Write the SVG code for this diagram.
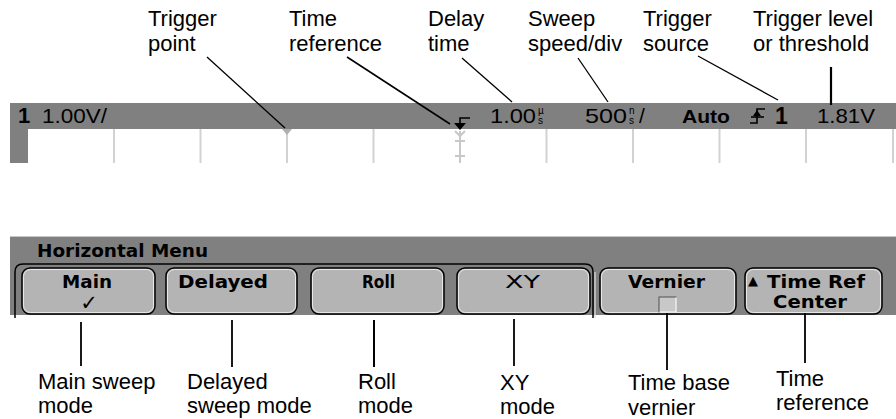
<svg xmlns="http://www.w3.org/2000/svg" width="896" height="419" viewBox="0 0 896 419">
<style>
.lbl{font-family:"Liberation Sans",Arial,sans-serif;font-size:22px;fill:#000}
.scr{font-family:"Liberation Sans",Arial,sans-serif;font-size:21px;fill:#000}
.unit{font-family:"Liberation Sans",Arial,sans-serif;font-size:10px;fill:#000}
.btn{font-family:"DejaVu Sans",sans-serif;font-weight:bold;font-size:17px;fill:#000}
.tick{stroke:#d2d2d2;stroke-width:2}
.btnbox{fill:#b4b4b4;stroke:#000;stroke-width:1.5}
.hl{fill:none;stroke:#e8e8e8;stroke-width:1}
.con line{stroke:#000;stroke-width:1.3}
</style>
<rect width="896" height="419" fill="#fff"/>
<!-- top status bar -->
<g id="status-bar">
<rect x="10" y="103" width="886" height="26" fill="#808080"/>
<rect x="10" y="129" width="18" height="34" fill="#808080"/>
<line class="tick" x1="114" y1="129" x2="114" y2="163"/>
<line class="tick" x1="200.5" y1="129" x2="200.5" y2="163"/>
<line class="tick" x1="287" y1="129" x2="287" y2="163"/>
<line class="tick" x1="373.5" y1="129" x2="373.5" y2="163"/>
<line class="tick" x1="546.5" y1="129" x2="546.5" y2="163"/>
<line class="tick" x1="633" y1="129" x2="633" y2="163"/>
<line class="tick" x1="719.5" y1="129" x2="719.5" y2="163"/>
<line class="tick" x1="806" y1="129" x2="806" y2="163"/>
<line class="tick" x1="893" y1="129" x2="893" y2="163"/>
<polygon points="282,129 292,129 287,135" fill="#b0b0b0"/>
<g stroke="#c8c8c8" stroke-width="2" fill="none">
<polyline points="455,131 460,136 465,131"/>
<line x1="460" y1="131" x2="460" y2="163"/>
<line x1="455" y1="141" x2="465" y2="141"/>
<line x1="455" y1="156" x2="465" y2="156"/>
</g>
<g stroke="#000" stroke-width="1.6" fill="none">
<polyline points="470,118 460,118 460,125"/>
</g>
<polygon points="454,123 466,123 460,130" fill="#000"/>
<text x="18" y="123" font-family="Liberation Sans,Arial,sans-serif" font-weight="bold" font-size="22">1</text>
<text class="scr" x="42" y="123" textLength="65" lengthAdjust="spacingAndGlyphs">1.00V/</text>
<text class="scr" x="490" y="123" textLength="46" lengthAdjust="spacingAndGlyphs">1.00</text>
<text class="unit" x="538" y="114">µ<tspan x="538" y="124">s</tspan></text>
<text class="scr" x="585" y="123" textLength="42" lengthAdjust="spacingAndGlyphs">500</text>
<text class="unit" x="629" y="114">n<tspan x="629" y="124">s</tspan></text>
<text class="scr" x="639" y="123">/</text>
<text x="682" y="123" font-family="Liberation Sans,Arial,sans-serif" font-weight="bold" font-size="18" textLength="48" lengthAdjust="spacingAndGlyphs">Auto</text>
<g stroke="#000" stroke-width="1.6" fill="none">
<polyline points="750,123 757,123 757,109 765,109"/>
<line x1="751" y1="117" x2="764" y2="117"/>
</g>
<polygon points="753,116 757,110 761,116" fill="#000"/>
<text x="775" y="124" font-family="Liberation Sans,Arial,sans-serif" font-weight="bold" font-size="23">1</text>
<text class="scr" x="817" y="123" textLength="58" lengthAdjust="spacingAndGlyphs">1.81V</text>
</g>
<!-- menu -->
<g id="menu">
<rect x="10" y="237" width="886" height="78" fill="#808080"/>
<line x1="10" y1="236.5" x2="896" y2="236.5" stroke="#c8c8c8" stroke-width="1"/>
<text class="btn" x="37" y="257" textLength="171" lengthAdjust="spacingAndGlyphs">Horizontal  Menu</text>
<path d="M15,318 V272 Q15,264 23,264 H585 Q593,264 593,272 V318" fill="none" stroke="#000" stroke-width="1.5"/>
<path d="M595,272 V318" fill="none" stroke="#e0e0e0" stroke-width="1.2"/>
</g>
<g id="btn-main">
<rect class="btnbox" x="22" y="268" width="133" height="46" rx="8"/>
<rect class="hl" x="23.5" y="269.5" width="130" height="43" rx="7"/>
<text class="btn" x="62" y="288" textLength="50" lengthAdjust="spacingAndGlyphs">Main</text>
<text x="89" y="310" font-family="DejaVu Sans,sans-serif" font-size="21" text-anchor="middle">✓</text>
</g>
<g id="btn-delayed">
<rect class="btnbox" x="166" y="268" width="131" height="46" rx="8"/>
<rect class="hl" x="167.5" y="269.5" width="128" height="43" rx="7"/>
<text class="btn" x="178" y="288" textLength="90" lengthAdjust="spacingAndGlyphs">Delayed</text>
</g>
<g id="btn-roll">
<rect class="btnbox" x="311" y="268" width="133" height="46" rx="8"/>
<rect class="hl" x="312.5" y="269.5" width="130" height="43" rx="7"/>
<text class="btn" x="362" y="288" textLength="33" lengthAdjust="spacingAndGlyphs">Roll</text>
</g>
<g id="btn-xy">
<rect class="btnbox" x="457" y="268" width="133" height="46" rx="8"/>
<rect class="hl" x="458.5" y="269.5" width="130" height="43" rx="7"/>
<text x="505" y="288" font-family="DejaVu Sans,sans-serif" font-size="18" textLength="35" lengthAdjust="spacingAndGlyphs">XY</text>
</g>
<g id="btn-vernier">
<rect class="btnbox" x="600" y="268" width="136" height="46" rx="8"/>
<rect class="hl" x="601.5" y="269.5" width="133" height="43" rx="7"/>
<text class="btn" x="628" y="288" textLength="77" lengthAdjust="spacingAndGlyphs">Vernier</text>
<rect x="659" y="297" width="17" height="15" fill="#c8c8c8" stroke="#505050" stroke-width="1"/>
<polyline points="659.5,312 676,312 676,297.5" fill="none" stroke="#fff" stroke-width="1.5"/>
</g>
<g id="btn-timeref">
<rect class="btnbox" x="745" y="268" width="137" height="46" rx="8"/>
<rect class="hl" x="746.5" y="269.5" width="134" height="43" rx="7"/>
<text x="748" y="285" font-family="DejaVu Sans,sans-serif" font-size="13">▲</text>
<text class="btn" x="767" y="288" textLength="98" lengthAdjust="spacingAndGlyphs">Time  Ref</text>
<text class="btn" x="773" y="308" textLength="74" lengthAdjust="spacingAndGlyphs">Center</text>
</g>
<!-- labels -->
<g id="lbl-trigger-point"><text class="lbl" x="148" y="26">Trigger</text><text class="lbl" x="148" y="51">point</text></g>
<g id="lbl-time-reference-top"><text class="lbl" x="289" y="26">Time</text><text class="lbl" x="289" y="51">reference</text></g>
<g id="lbl-delay-time"><text class="lbl" x="428" y="26">Delay</text><text class="lbl" x="428" y="51">time</text></g>
<g id="lbl-sweep-speed"><text class="lbl" x="528" y="26">Sweep</text><text class="lbl" x="528" y="51">speed/div</text></g>
<g id="lbl-trigger-source"><text class="lbl" x="643" y="26">Trigger</text><text class="lbl" x="643" y="51">source</text></g>
<g id="lbl-trigger-level"><text class="lbl" x="753" y="26">Trigger level</text><text class="lbl" x="753" y="51">or threshold</text></g>
<g id="lbl-main-sweep"><text class="lbl" x="38" y="389">Main sweep</text><text class="lbl" x="38" y="413">mode</text></g>
<g id="lbl-delayed-sweep"><text class="lbl" x="187" y="389">Delayed</text><text class="lbl" x="187" y="413">sweep mode</text></g>
<g id="lbl-roll"><text class="lbl" x="358" y="389">Roll</text><text class="lbl" x="358" y="413">mode</text></g>
<g id="lbl-xy"><text class="lbl" x="500" y="390">XY</text><text class="lbl" x="500" y="414">mode</text></g>
<g id="lbl-vernier"><text class="lbl" x="628" y="390">Time base</text><text class="lbl" x="628" y="415">vernier</text></g>
<g id="lbl-time-reference-bottom"><text class="lbl" x="776" y="386">Time</text><text class="lbl" x="776" y="410">reference</text></g>
<!-- connectors -->
<g id="connectors" class="con">
<line x1="207" y1="57" x2="285" y2="128"/>
<line x1="347" y1="57" x2="450" y2="124" style="stroke-width:1.6"/>
<line x1="462" y1="58" x2="512" y2="102"/>
<line x1="578" y1="58" x2="608" y2="102"/>
<line x1="698" y1="56" x2="778" y2="100"/>
<line x1="831" y1="67" x2="831" y2="105" style="stroke-width:2.2"/>
<line x1="81" y1="322" x2="81" y2="366" style="stroke-width:1.8"/>
<line x1="232" y1="320" x2="232" y2="367" style="stroke-width:1.8"/>
<line x1="374" y1="320" x2="374" y2="367" style="stroke-width:2"/>
<line x1="514" y1="319" x2="514" y2="366" style="stroke-width:1.8"/>
<line x1="667" y1="313" x2="667" y2="370" style="stroke-width:1.8"/>
<line x1="805" y1="313" x2="805" y2="363" style="stroke-width:1.8"/>
</g>
</svg>
